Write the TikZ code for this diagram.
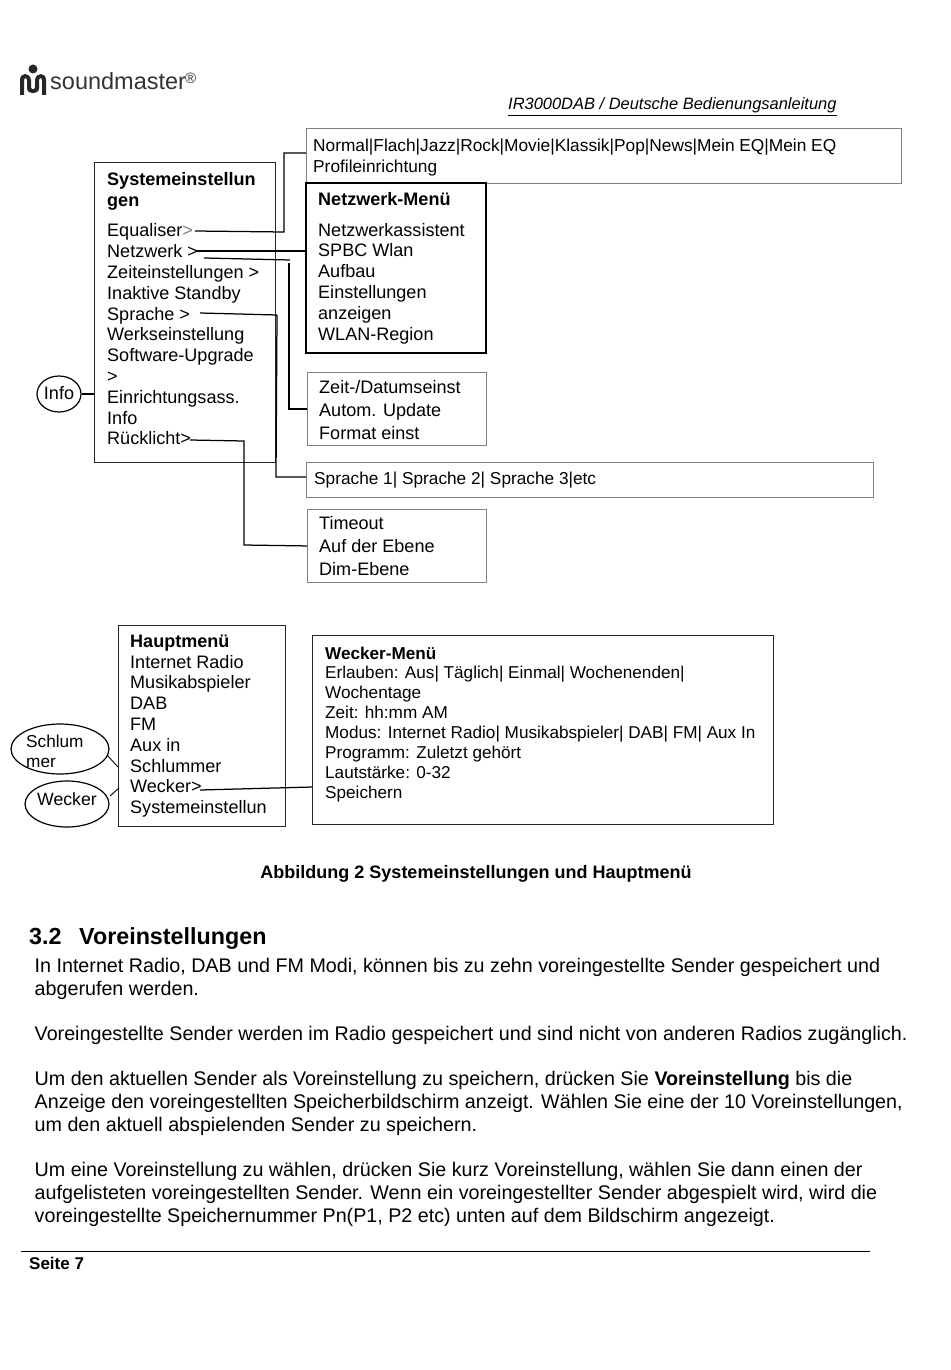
\documentclass[tikz,border=0pt]{standalone}
\usepackage{fontspec}
\setmainfont{Liberation Sans}
\usetikzlibrary{shapes.geometric}
\tikzset{
    menubox/.style={draw=black!85, line width=1.2pt, anchor=north west, inner sep=0pt},
    lightbox/.style={draw=black!50, line width=.9pt, anchor=north west, inner sep=0pt},
    menutext/.style={anchor=north west, inner sep=0pt, align=left, font=\fontsize{18.05}{20.8}\selectfont},
    bodytext/.style={anchor=north west, inner sep=0pt, align=left, font=\fontsize{19.7}{22.9}\selectfont},
    oval/.style={draw=black, line width=1.2pt, ellipse, inner sep=0pt},
    wire/.style={draw=black, line width=1.25pt},
}
\begin{document}
\begin{tikzpicture}[x=1pt,y=-1pt]
    \useasboundingbox (0,0) rectangle (950,1370);
    % header
    \fill[black!85] (20,95) -- (20,80) .. controls (20,72) and (30,72) .. (31,80) -- (31,87) .. controls (31,90) and (35,90) .. (35,87) -- (35,80) .. controls (36,72) and (46,72) .. (46,80) -- (46,95) -- (42,95) -- (42,81) .. controls (42,77) and (39,77) .. (39,81) -- (39,88) .. controls (39,95) and (27,95) .. (27,88) -- (27,81) .. controls (27,77) and (24,77) .. (24,81) -- (24,95) -- cycle;
    \fill[black!85] (33,69) circle (4.5);
    \node[anchor=base west, inner sep=0pt, text=black!80, font=\fontsize{23.5}{24}\selectfont] (logotext) at (50,90) {soundmaster};
    \node[anchor=base west, inner sep=0pt, text=black!80, font=\fontsize{15}{16}\selectfont] (logomark) at (185,84) {®};
    \node[anchor=base west, inner sep=0pt, font=\fontsize{16.45}{20}\itshape] (doctitle) at (508,110) {\underline{IR3000DAB / Deutsche Bedienungsanleitung}};

    % upper boxes
    \node[menubox, minimum width=181pt, minimum height=300pt] (sysbox) at (94,162) {};
    \node[menutext] (systext) at (107,172) {\textbf{Systemeinstellun}\\\textbf{gen}\\[10pt]Equaliser\textcolor{black!50}{>}\\Netzwerk >\\Zeiteinstellungen >\\Inaktive Standby\\Sprache >\\Werkseinstellung\\Software-Upgrade\\>\\Einrichtungsass.\\Info\\Rücklicht>};
    \node[lightbox, minimum width=595pt, minimum height=55pt] (eqbox) at (306,128) {};
    \node[menutext, font=\fontsize{17.3}{20.5}\selectfont] (eqtext) at (313,139) {Normal|Flach|Jazz|Rock|Movie|Klassik|Pop|News|Mein EQ|Mein EQ\\Profileinrichtung};
    \node[menubox, draw=black, line width=1.5pt, minimum width=180pt, minimum height=170pt] (netzbox) at (305,182) {};
    \node[menutext] (netztext) at (318,192) {\textbf{Netzwerk-Menü}\\[10pt]Netzwerkassistent\\SPBC Wlan\\Aufbau\\Einstellungen\\anzeigen\\WLAN-Region};
    \node[lightbox, minimum width=179pt, minimum height=73pt] (zeitbox) at (307,372) {};
    \node[menutext, font=\fontsize{18.05}{23}\selectfont] (zeittext) at (319,380) {Zeit-/Datumseinst\\Autom. Update\\Format einst};
    \node[lightbox, minimum width=567pt, minimum height=35pt] (sprbox) at (306,462) {};
    \node[menutext, font=\fontsize{17.25}{20}\selectfont] (sprtext) at (314,472) {Sprache 1| Sprache 2| Sprache 3|etc};
    \node[lightbox, minimum width=179pt, minimum height=73pt] (timebox) at (307,509) {};
    \node[menutext, font=\fontsize{18.05}{23}\selectfont] (timetext) at (319,516) {Timeout\\Auf der Ebene\\Dim-Ebene};
    \node[oval, minimum width=44pt, minimum height=36pt] (infooval) at (59,394) {};
    \node[menutext, anchor=center] (infotext) at (59,393) {Info};

    % upper connectors
    \coordinate (eqstart) at (195,231);
    \coordinate (eqbend) at (284,232);
    \coordinate (eqtop) at (284,153);
    \coordinate (netzstart) at (197,251);
    \coordinate (zeitstart) at (204,258);
    \coordinate (zeitend) at (290,260);
    \coordinate (zeittop) at (289,263);
    \coordinate (sprstart) at (200,313);
    \coordinate (sprend) at (277,315);
    \coordinate (sprdown) at (276,477);
    \coordinate (ruckstart) at (190,440);
    \coordinate (ruckbend) at (244,441);
    \coordinate (ruckdown) at (244,545);
    \draw[wire] (eqstart) -- (eqbend) -- (eqtop) -- (eqtop -| eqbox.west);
    \draw[wire] (netzstart) -- (netzstart -| netzbox.west);
    \draw[wire] (zeitstart) -- (zeitend);
    \draw[wire] (zeittop) |- (zeitbox.west);
    \draw[wire] (sprstart) -- (sprend);
    \draw[wire] (sprend) -- (sprdown) -- (sprdown -| sprbox.west);
    \draw[wire] (ruckstart) -- (ruckbend) -- (ruckdown) -- (timebox.west);
    \draw[wire] (infooval) -- (infooval -| sysbox.west);

    % lower boxes
    \node[menubox, line width=1.4pt, minimum width=167pt, minimum height=201pt] (hauptbox) at (118,625) {};
    \node[menutext] (haupttext) at (130,635) {\textbf{Hauptmenü}\\[-.5pt]Internet Radio\\Musikabspieler\\DAB\\FM\\Aux in\\Schlummer\\Wecker>\\Systemeinstellun};
    \node[menubox, minimum width=461pt, minimum height=189pt] (weckerbox) at (312,635) {};
    \node[menutext, font=\fontsize{17.15}{19.85}\selectfont] (weckertext) at (325,646.5) {\textbf{Wecker-Menü}\\Erlauben: Aus| Täglich| Einmal| Wochenenden|\\Wochentage\\Zeit: hh:mm AM\\Modus: Internet Radio| Musikabspieler| DAB| FM| Aux In\\Programm: Zuletzt gehört\\Lautstärke: 0-32\\Speichern};
    \node[oval, minimum width=98pt, minimum height=50pt] (schlumoval) at (60,749) {};
    \node[menutext, font=\fontsize{17.2}{20}\selectfont] (schlumtext) at (26,735) {Schlum\\mer};
    \node[oval, minimum width=84pt, minimum height=46pt] (weckoval) at (67,804) {};
    \node[menutext, anchor=center, font=\fontsize{17.7}{20}\selectfont] (wecktext) at (67,799) {Wecker};

    % lower connectors
    \coordinate (schlumstart) at (107,755);
    \coordinate (schlumend) at (118,767);
    \coordinate (weckstart) at (110,796);
    \coordinate (weckend) at (119,788);
    \coordinate (alarmstart) at (200,790);
    \coordinate (alarmend) at (312,787);
    \draw[wire, line width=.9pt] (schlumstart) -- (schlumend);
    \draw[wire, line width=.9pt] (weckstart) -- (weckend);
    \draw[wire] (alarmstart) -- (alarmend);

    % text below
    \node[anchor=base, inner sep=0pt, font=\fontsize{18}{20}\bfseries] (caption) at (476,878) {Abbildung 2 Systemeinstellungen und Hauptmenü};
    \node[anchor=base west, inner sep=0pt, font=\fontsize{23.3}{26}\bfseries] (secnum) at (29,944) {3.2};
    \node[anchor=base west, inner sep=0pt, font=\fontsize{23.3}{26}\bfseries] (sectitle) at (79,944) {Voreinstellungen};
    \node[bodytext] (para1) at (34.5,958) {In Internet Radio, DAB und FM Modi, können bis zu zehn voreingestellte Sender gespeichert und\\abgerufen werden.};
    \node[bodytext] (para2) at (34.5,1026) {Voreingestellte Sender werden im Radio gespeichert und sind nicht von anderen Radios zugänglich.};
    \node[bodytext] (para3) at (34.5,1071) {Um den aktuellen Sender als Voreinstellung zu speichern, drücken Sie \textbf{Voreinstellung} bis die\\Anzeige den voreingestellten Speicherbildschirm anzeigt. Wählen Sie eine der 10 Voreinstellungen,\\um den aktuell abspielenden Sender zu speichern.};
    \node[bodytext] (para4) at (34.5,1162) {Um eine Voreinstellung zu wählen, drücken Sie kurz Voreinstellung, wählen Sie dann einen der\\aufgelisteten voreingestellten Sender. Wenn ein voreingestellter Sender abgespielt wird, wird die\\voreingestellte Speichernummer Pn(P1, P2 etc) unten auf dem Bildschirm angezeigt.};

    % footer
    \coordinate (footleft) at (21,1251.5);
    \coordinate (footright) at (870,1251.5);
    \draw[black, line width=1.8pt] (footleft) -- (footright);
    \node[anchor=base west, inner sep=0pt, font=\fontsize{17}{20}\bfseries] (pagenum) at (29,1269) {Seite 7};
\end{tikzpicture}
\end{document}
